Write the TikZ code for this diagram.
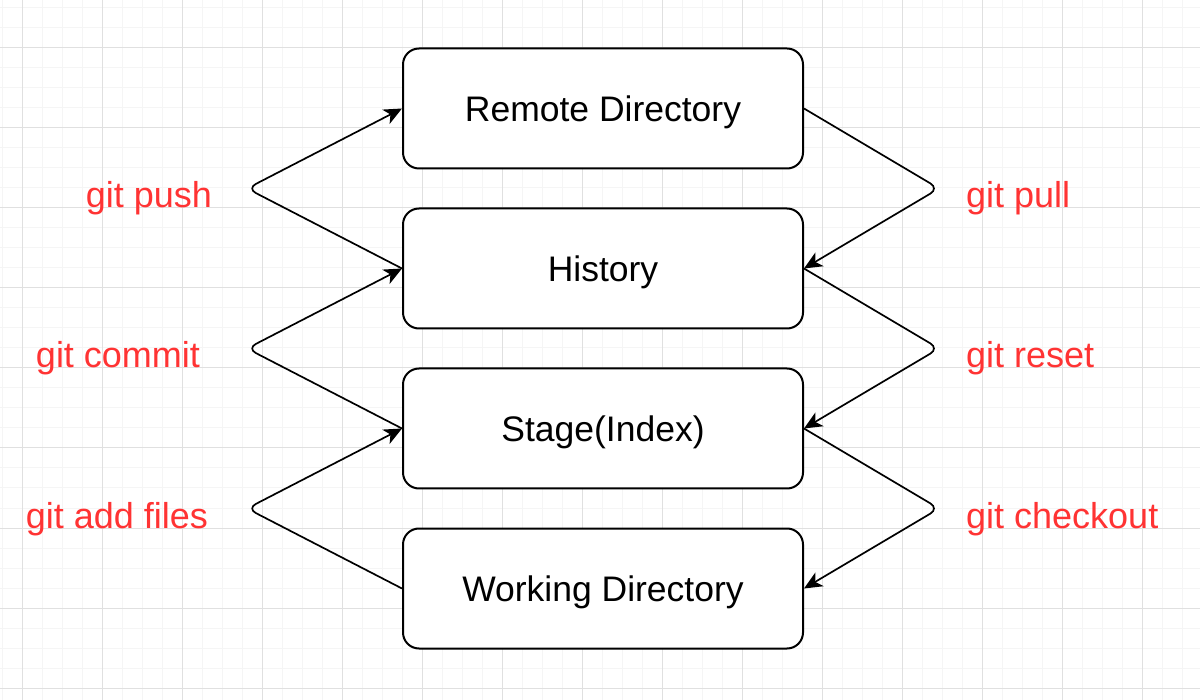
\documentclass[tikz,border=0pt]{standalone}
\usepackage{fontspec}
\setmainfont{Liberation Sans}
\usetikzlibrary{arrows.meta}
\definecolor{gminor}{HTML}{F5F5F5}
\definecolor{gmajor}{HTML}{E0E0E0}
\definecolor{gitred}{HTML}{FF3333}
\tikzset{
  stagebox/.style={draw=black, line width=2pt, rounded corners=16pt, fill=white,
    minimum width=400pt, minimum height=120pt, inner sep=0pt,
    text height=26pt, text depth=0pt, font=\fontsize{35.5}{42}\selectfont},
  cmdlabel/.style={text=gitred, inner sep=0pt, font=\fontsize{36}{42}\selectfont},
  flow/.style={draw=black, line width=1.7pt, rounded corners=10pt,
    -{Stealth[length=18pt, width=16pt, inset=5pt]}}
}
\begin{document}
\begin{tikzpicture}[x=1pt,y=-1pt]
\useasboundingbox (0,0) rectangle (1200,700);
\fill[white] (0,0) rectangle (1200,700);
% grid
\foreach \i in {0,...,59} {\draw[gminor, line width=1pt] ({2+20*\i},0) -- ({2+20*\i},700);}
\foreach \i in {0,...,34} {\draw[gminor, line width=1pt] (0,{8+20*\i}) -- (1200,{8+20*\i});}
\foreach \i in {0,...,14} {\draw[gmajor, line width=1pt] ({22+80*\i},0) -- ({22+80*\i},700);}
\foreach \i in {0,...,8} {\draw[gmajor, line width=1pt] (0,{48+80*\i}) -- (1200,{48+80*\i});}
% boxes
\node[stagebox] (remote) at (603,108.5) {Remote Directory};
\node[stagebox] (history) at (603,268.5) {History};
\node[stagebox] (stage) at (603,428.5) {Stage(Index)};
\node[stagebox] (work) at (603,588.5) {Working Directory};
% bend points
\coordinate (lp) at (247,188.5);
\coordinate (lc) at (247,348.5);
\coordinate (la) at (247,508.5);
\coordinate (rp) at (939,188.5);
\coordinate (rr) at (939,348.5);
\coordinate (rc) at (939,508.5);
% connectors
\draw[flow] (history.west) -- (lp) -- (remote.west);
\draw[flow] (stage.west) -- (lc) -- (history.west);
\draw[flow] (work.west) -- (la) -- (stage.west);
\draw[flow] (remote.east) -- (rp) -- (history.east);
\draw[flow] (history.east) -- (rr) -- (stage.east);
\draw[flow] (stage.east) -- (rc) -- (work.east);
% labels
\node[cmdlabel, anchor=base] (tpush) at (149,208) {git push};
\node[cmdlabel, anchor=base] (tcommit) at (118,368) {git commit};
\node[cmdlabel, anchor=base] (tadd) at (117,528) {git add files};
\node[cmdlabel, anchor=base west] (tpull) at (966,208) {git pull};
\node[cmdlabel, anchor=base west] (treset) at (966,368) {git reset};
\node[cmdlabel, anchor=base west] (tcheck) at (966,528) {git checkout};
\end{tikzpicture}
\end{document}
